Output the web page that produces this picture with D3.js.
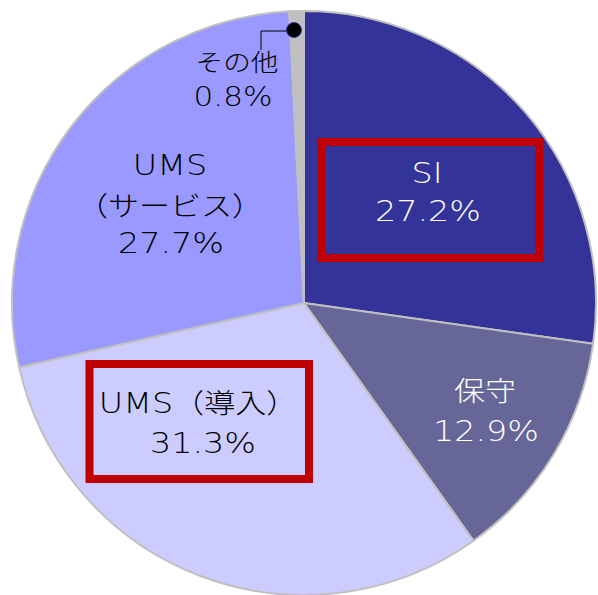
<!DOCTYPE html>
<html><head><meta charset="utf-8">
<script src="https://cdn.jsdelivr.net/npm/d3@7"></script>
<style>body{margin:0;background:#fff}svg{display:block}</style>
</head><body>
<svg id="c" width="598" height="595"></svg>
<script>
const categories = ["SI","保守","UMS（導入）","UMS（サービス）","その他"];
const values = [27.2, 12.9, 31.3, 27.7, 0.8];
const colors = ["#333399","#666699","#ccccff","#9999ff","#c0c0c0"];
const labelLines = [["SI","27.2%"],["保守","12.9%"],["UMS（導入）","31.3%"],["UMS","（サービス）","27.7%"],["その他","0.8%"]];
const textColors = ["#fff","#fff","#000","#000","#000"];

const svg = d3.select("#c");
const cx = 304, cy = 303, r = 292;
const g = svg.append("g").attr("transform",`translate(${cx},${cy})`);
const pie = d3.pie().sort(null).value(d=>d)(values);
const arc = d3.arc().innerRadius(0).outerRadius(r);
g.selectAll("path").data(pie).join("path")
  .attr("d",arc).attr("fill",(d,i)=>colors[i])
  .attr("stroke","#c0c0c0").attr("stroke-width",2).attr("stroke-linejoin","round");

// label line centres: [x, y] per line
const labelPos = [
  [[427,177],[428,215]],
  [[485,395],[486,435]],
  [[198,407],[203,447]],
  [[170,169],[170,210],[171,247]],
  [[237,65],[233,100]]
];
const stretch = 1.15;
function runs(s){ return s.match(/[\x00-\x7f]+|[^\x00-\x7f]+/g); }
labelLines.forEach((lines,i)=>{
  lines.forEach((s,j)=>{
    const [lx,ly] = labelPos[i][j];
    const small = i===4;
    const t = svg.append("text").attr("x",0).attr("y",0).attr("dy","0.36em")
      .attr("transform",`translate(${lx},${ly}) scale(${stretch},1)`)
      .attr("text-anchor","middle").attr("fill",textColors[i]);
    runs(s).forEach(part=>{
      const ascii = /^[\x00-\x7f]+$/.test(part);
      t.append("tspan")
        .attr("font-family", ascii ? "'DejaVu Sans', sans-serif" : "'Noto Sans CJK JP', sans-serif")
        .attr("font-weight", ascii ? 200 : 300)
        .attr("font-size", ascii ? (small?27:29) : (small?24:27))
        .text(part);
    });
  });
});
// highlight boxes
const boxes = [[321,142,218,116],[89.5,364,219.5,115]];
boxes.forEach(b=>{
  svg.append("rect").attr("x",b[0]).attr("y",b[1]).attr("width",b[2]).attr("height",b[3])
    .attr("fill","none").attr("stroke","#c00000").attr("stroke-width",8);
});
// leader for その他
const dot = [294, 30];
svg.append("path").attr("d",`M${dot[0]},${dot[1]+1}H261V50`).attr("fill","none").attr("stroke","#000").attr("stroke-width",1);
svg.append("circle").attr("cx",dot[0]).attr("cy",dot[1]).attr("r",7.5).attr("fill","#000").attr("stroke","#333399").attr("stroke-width",1);
</script>
</body></html>
